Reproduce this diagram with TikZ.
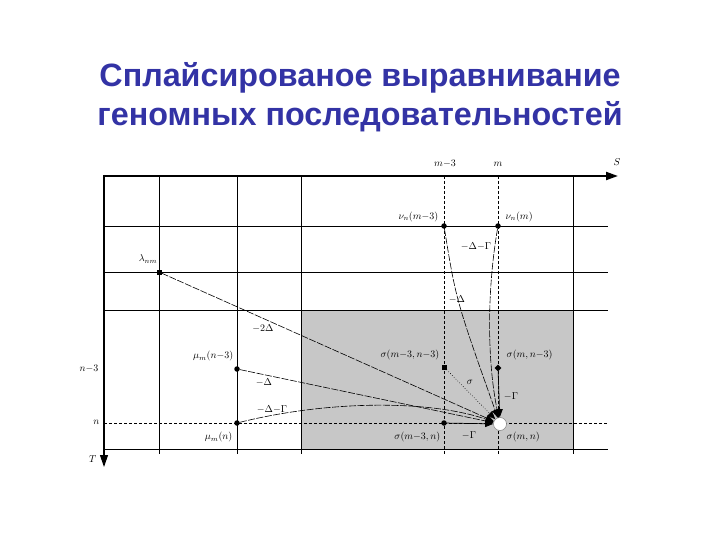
\documentclass[tikz,border=0pt]{standalone}
\usepackage{fontspec}
\setmainfont{Liberation Sans}
\usetikzlibrary{arrows.meta,shapes.geometric}
\definecolor{titleblue}{RGB}{51,51,165}
\begin{document}
\begin{tikzpicture}[x=1pt,y=-1pt,
  gridline/.style={line width=0.9pt},
  dgrid/.style={line width=0.8pt,dash pattern=on 3pt off 2pt},
  dotpt/.style={circle,fill=black,inner sep=0pt,minimum size=5.5pt},
  sqpt/.style={rectangle,fill=black,inner sep=0pt,minimum size=5pt},
  dmpt/.style={diamond,fill=black,inner sep=0pt,minimum size=7pt},
  lbl/.style={font=\fontsize{10}{11}\selectfont,inner sep=0.5pt},
  tip/.style={-{Triangle[length=8pt,width=6.5pt]}},
  conn/.style={line width=0.6pt,dash pattern=on 7pt off 1.5pt,tip},
  solidconn/.style={line width=0.7pt,tip},
  dotconn/.style={line width=0.6pt,dotted,tip},
  titletext/.style={font=\fontsize{32.3}{38}\selectfont\bfseries,text=titleblue,inner sep=0pt}
]
\useasboundingbox (0,0) rectangle (720,540);

% title
\node[titletext] (t1) at (360,78) {Сплайсированое выравнивание};
\node[titletext] (t2) at (360,117) {геномных последовательностей};

% shaded region
\fill[black!22] (301,310) rectangle (573,449);

% horizontal grid lines
\draw[gridline] (104,226) -- (608,226);
\draw[gridline] (104,272) -- (608,272);
\draw[gridline] (104,310) -- (608,310);
\draw[gridline] (104,449) -- (608,449);
\draw[dgrid] (104,423) -- (608,423);

% vertical grid lines
\draw[gridline] (159,176) -- (159,454);
\draw[gridline] (237,176) -- (237,454);
\draw[gridline] (301,176) -- (301,454);
\draw[gridline] (573,176) -- (573,454);
\draw[dgrid] (444,176) -- (444,454);
\draw[dgrid] (498,176) -- (498,454);

% axes
\draw[line width=2pt,-{Triangle[length=12pt,width=8pt]}] (103,176) -- (618,176);
\draw[line width=1.1pt,-{Triangle[length=12pt,width=8pt]}] (104,175) -- (104,467);

% axis labels
\node[lbl] (lm3) at (445,164) {$m{-}3$};
\node[lbl] (lm) at (498,164) {$m$};
\node[lbl] (lS) at (617,162) {$S$};
\node[lbl,anchor=east] (ln3) at (99,369) {$n{-}3$};
\node[lbl,anchor=east] (ln) at (100,422) {$n$};
\node[lbl,anchor=east] (lT) at (97,459) {$T$};

% points
\node[sqpt] (lam) at (159,272) {};
\node[dotpt] (nu1) at (444,226) {};
\node[dotpt] (nu2) at (498,226) {};
\node[dotpt] (mu1) at (237,369) {};
\node[dotpt] (mu2) at (237,423) {};
\node[sqpt] (s1) at (444,367) {};
\node[dmpt] (s2) at (498,368) {};
\node[dotpt] (s3) at (444,423) {};
\node[circle,fill=white,draw=black!50,line width=0.5pt,minimum size=13pt,inner sep=0pt] (end) at (500,424) {};

% point labels
\node[lbl] (llam) at (148,259) {$\lambda_{nm}$};
\node[lbl,anchor=east] (lnu1) at (439,217) {$\nu_n(m{-}3)$};
\node[lbl,anchor=west] (lnu2) at (505,217) {$\nu_n(m)$};
\node[lbl,anchor=east] (lmu1) at (234,356) {$\mu_m(n{-}3)$};
\node[lbl,anchor=east] (lmu2) at (233,437) {$\mu_m(n)$};
\node[lbl,anchor=east] (ls1) at (440,355) {$\sigma(m{-}3,n{-}3)$};
\node[lbl,anchor=west] (ls2) at (506,355) {$\sigma(m,n{-}3)$};
\node[lbl,anchor=east] (ls3) at (441,437) {$\sigma(m{-}3,n)$};
\node[lbl,anchor=west] (ls4) at (506,437) {$\sigma(m,n)$};

% edge labels
\node[lbl] (e1) at (476,246) {$-\Delta{-}\Gamma$};
\node[lbl] (e2) at (457,299) {$-\Delta$};
\node[lbl] (e3) at (263,328) {$-2\Delta$};
\node[lbl] (e4) at (264,382) {$-\Delta$};
\node[lbl] (e5) at (272,409) {$-\Delta{-}\Gamma$};
\node[lbl] (e6) at (470,382) {$\sigma$};
\node[lbl] (e7) at (511,396) {$-\Gamma$};
\node[lbl] (e8) at (469,435) {$-\Gamma$};

% connectors
\draw[conn] (lam) -- (end);
\draw[conn] (mu1) -- (end);
\draw[conn] (mu2) .. controls (330,400) and (430,400) .. (end);
\draw[conn] (nu1) .. controls (456,300) .. (end);
\draw[conn] (nu2) .. controls (487,290) and (487,360) .. (end);
\draw[dotconn] (s1) -- (end);
\draw[solidconn] (s2) -- (end);
\draw[solidconn] (s3) -- (end);
\end{tikzpicture}
\end{document}
